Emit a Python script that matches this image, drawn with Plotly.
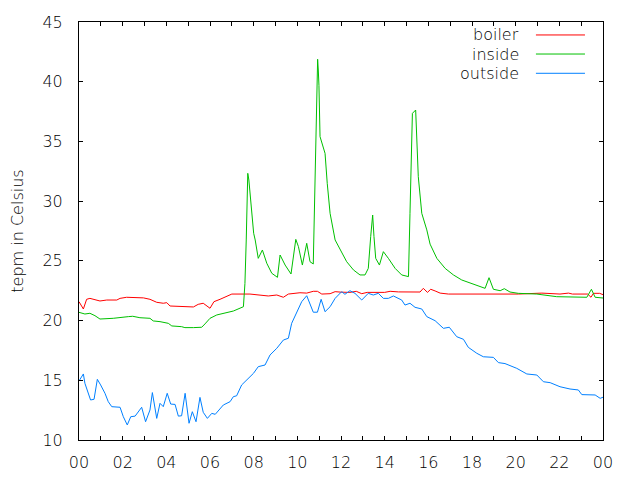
import plotly.graph_objects as go

# ---- data (hours of day, degrees Celsius) ----
boiler_h = [0.0, 0.2, 0.35, 0.5, 0.96, 1.27, 1.73, 1.88, 2.18, 2.72,
            2.95, 3.25, 3.56, 3.86, 4.02, 4.17, 4.78, 5.24, 5.46, 5.69,
            6.0, 6.18, 6.46, 6.77, 7.0, 7.83, 8.67, 9.06, 9.36, 9.59,
            10.12, 10.43, 10.73, 10.92, 11.12, 11.5, 11.73, 12.0, 12.41, 12.7,
            12.95, 13.2, 13.5, 14.0, 14.25, 14.63, 15.62, 15.77, 15.96, 16.11,
            16.31, 16.54, 16.92, 20.12, 21.2, 22.03, 22.42, 22.6, 23.3, 23.45,
            23.56, 23.85, 24.0]
boiler_v = [21.58, 20.97, 21.78, 21.86, 21.64, 21.72, 21.72, 21.86, 21.95, 21.95,
            21.9, 21.78, 21.53, 21.45, 21.5, 21.22, 21.14, 21.14, 21.36, 21.45,
            21.03, 21.58, 21.78, 22.0, 22.22, 22.22, 22.06, 22.14, 21.95, 22.22,
            22.33, 22.3, 22.45, 22.45, 22.22, 22.25, 22.42, 22.38, 22.36, 22.45,
            22.25, 22.36, 22.36, 22.36, 22.45, 22.4, 22.39, 22.7, 22.36, 22.62,
            22.48, 22.3, 22.22, 22.22, 22.3, 22.22, 22.3, 22.22, 22.22, 21.95,
            22.28, 22.28, 22.17]

inside_h = [0.0, 0.27, 0.5, 0.73, 0.96, 1.57, 2.26, 2.46, 2.79, 3.25,
            3.4, 3.71, 4.09, 4.25, 4.7, 4.85, 5.24, 5.62, 5.77, 6.0,
            6.31, 6.61, 7.07, 7.53, 7.6, 7.66, 7.7, 7.73, 7.78, 7.82,
            7.88, 7.93, 8.0, 8.07, 8.21, 8.4, 8.6, 8.83, 9.09, 9.21,
            9.44, 9.71, 9.93, 10.05, 10.23, 10.43, 10.58, 10.73, 10.81, 10.89,
            10.93, 10.96, 10.99, 11.04, 11.19, 11.27, 11.37, 11.5, 11.73, 11.96,
            12.26, 12.57, 12.87, 13.1, 13.25, 13.36, 13.45, 13.51, 13.59, 13.76,
            13.94, 14.17, 14.48, 14.78, 15.09, 15.16, 15.21, 15.27, 15.42, 15.47,
            15.54, 15.7, 15.93, 16.08, 16.39, 16.77, 17.15, 17.53, 17.99, 18.37,
            18.6, 18.78, 18.98, 19.29, 19.48, 19.74, 20.12, 20.97, 21.88, 23.26,
            23.47, 23.64, 24.0]
inside_v = [20.69, 20.55, 20.61, 20.41, 20.13, 20.19, 20.33, 20.36, 20.24, 20.19,
            19.97, 19.91, 19.77, 19.55, 19.49, 19.41, 19.41, 19.44, 19.72, 20.19,
            20.47, 20.61, 20.8, 21.16, 23.1, 26.75, 30.37, 32.33, 31.77, 30.93,
            30.1, 28.42, 27.31, 26.75, 25.21, 25.91, 24.8, 23.96, 23.62, 25.49,
            24.65, 23.9, 26.8, 26.19, 24.65, 26.47, 24.93, 24.74, 30.93, 39.73,
            41.88, 40.98, 39.7, 35.4, 34.56, 34.0, 31.49, 28.98, 26.75, 25.91,
            24.93, 24.24, 23.82, 23.82, 24.37, 27.03, 28.84, 27.03, 25.21, 24.65,
            25.77, 25.21, 24.37, 23.82, 23.68, 28.98, 32.19, 37.35, 37.63, 35.68,
            32.05, 28.98, 27.59, 26.4, 25.21, 24.37, 23.82, 23.4, 23.12, 22.84,
            22.7, 23.59, 22.62, 22.5, 22.67, 22.39, 22.28, 22.22, 22.0, 21.95,
            22.62, 21.95, 21.89]

outside_h = [0.0, 0.12, 0.2, 0.27, 0.43, 0.53, 0.69, 0.84, 0.99, 1.19,
             1.34, 1.5, 1.88, 2.03, 2.21, 2.37, 2.57, 2.87, 3.05, 3.25,
             3.36, 3.56, 3.71, 3.86, 4.04, 4.2, 4.4, 4.55, 4.7, 4.86,
             5.04, 5.19, 5.36, 5.54, 5.69, 5.88, 6.08, 6.24, 6.61, 6.92,
             7.07, 7.22, 7.45, 7.68, 7.99, 8.21, 8.52, 8.75, 9.06, 9.36,
             9.59, 9.74, 9.97, 10.2, 10.43, 10.58, 10.73, 10.92, 11.09, 11.27,
             11.5, 11.73, 12.03, 12.18, 12.41, 12.64, 12.95, 13.25, 13.48, 13.71,
             13.94, 14.17, 14.4, 14.78, 14.93, 15.16, 15.39, 15.7, 15.93, 16.31,
             16.69, 16.96, 17.3, 17.61, 17.83, 18.22, 18.52, 18.98, 19.21, 19.51,
             20.05, 20.51, 20.97, 21.27, 21.58, 22.03, 22.49, 22.87, 23.03, 23.64,
             23.87, 24.0]
outside_v = [14.94, 15.3, 15.53, 14.75, 13.77, 13.35, 13.41, 15.08, 14.61, 13.91,
             13.21, 12.79, 12.74, 11.95, 11.26, 11.95, 12.0, 12.74, 11.53, 12.51,
             13.97, 11.81, 13.07, 12.79, 13.91, 13.01, 12.98, 12.0, 12.03, 13.91,
             11.4, 12.37, 11.53, 13.57, 12.32, 11.81, 12.23, 12.15, 12.93, 13.21,
             13.63, 13.7, 14.61, 15.02, 15.58, 16.14, 16.28, 17.12, 17.68, 18.37,
             18.52, 19.77, 20.74, 21.58, 22.08, 21.45, 20.7, 20.7, 21.78, 20.74,
             21.16, 21.86, 22.42, 22.2, 22.5, 22.28, 21.72, 22.28, 22.14, 22.28,
             21.86, 21.86, 22.06, 21.72, 21.3, 21.45, 21.11, 20.97, 20.33, 19.99,
             19.35, 19.44, 18.65, 18.43, 17.76, 17.26, 16.97, 16.92, 16.48, 16.4,
             16.0, 15.53, 15.44, 14.88, 14.8, 14.46, 14.27, 14.19, 13.8, 13.77,
             13.49, 13.58]

x_tickvals = [0, 2, 4, 6, 8, 10, 12, 14, 16, 18, 20, 22, 24]
x_ticktext = ["00", "02", "04", "06", "08", "10", "12", "14", "16", "18", "20", "22", "00"]
y_tickvals = [10, 15, 20, 25, 30, 35, 40, 45]

series = [
    ("boiler", boiler_h, boiler_v, "#ff0000"),
    ("inside", inside_h, inside_v, "#00c000"),
    ("outside", outside_h, outside_v, "#0080ff"),
]

FONT = "DejaVu Sans"
FS = 16
FW = 200
TXT = "black"
fig = go.Figure()
for name, xs, ys, col in series:
    fig.add_trace(go.Scatter(x=xs, y=ys, mode="lines", name=name,
                             line=dict(color=col, width=1), showlegend=False))

# custom legend (text left of line sample, as in gnuplot)
leg_y = [0.969, 0.9234, 0.8773]
for (name, _, _, col), yy in zip(series, leg_y):
    fig.add_annotation(x=0.8435, y=yy, xref="paper", yref="paper", text=name,
                       showarrow=False, xanchor="right", yanchor="middle",
                       font=dict(family=FONT, size=FS, color=TXT, weight=FW))
    fig.add_shape(type="line", xref="paper", yref="paper", x0=0.872, x1=0.9656,
                  y0=yy, y1=yy, line=dict(color=col, width=1))

axis_common = dict(showline=True, linecolor="black", linewidth=1, mirror="ticks",
                   ticks="inside", ticklen=4, tickcolor="black", tickwidth=1,
                   showgrid=False, zeroline=False,
                   tickfont=dict(family=FONT, size=FS, color=TXT, weight=FW))
fig.update_xaxes(range=[0, 24], tickmode="array", tickvals=x_tickvals, ticktext=x_ticktext,
                 minor=dict(dtick=1, ticks="inside", ticklen=4, tickcolor="black", showgrid=False),
                 ticklabelstandoff=8, **axis_common)
fig.update_yaxes(range=[10, 45], tickmode="array", tickvals=y_tickvals,
                 title=dict(text="tepm in Celsius",
                            font=dict(family=FONT, size=FS, color=TXT, weight=FW),
                            standoff=20),
                 ticklabelstandoff=12, **axis_common)

# page body has an 8px margin, so the figure is offset by 8px; size compensates
fig.update_layout(width=632, height=472, margin=dict(l=71, r=37, t=14, b=40, autoexpand=False),
                  plot_bgcolor="white", paper_bgcolor="white",
                  font=dict(family=FONT, size=FS, color=TXT, weight=FW))
fig.write_html("out.html")
